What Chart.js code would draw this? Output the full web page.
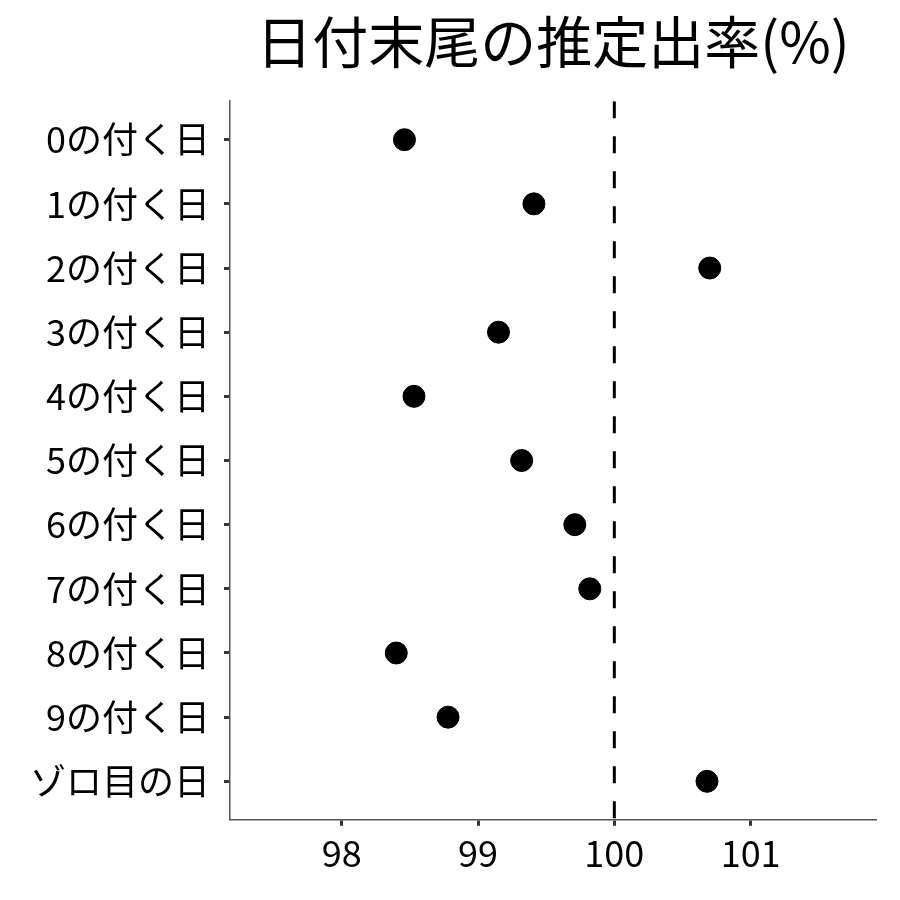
<!DOCTYPE html>
<html>
<head>
<meta charset="utf-8">
<script src="https://cdn.jsdelivr.net/npm/chart.js@4"></script>
<style>
  body { margin: 0; background: #fff; }
  #wrap { width: 900px; height: 900px; }
</style>
</head>
<body>
<div id="wrap"><canvas id="chart" width="900" height="900"></canvas></div>
<script>
    // カテゴリと推定出率
    const categories = ['0の付く日', '1の付く日', '2の付く日', '3の付く日', '4の付く日',
        '5の付く日', '6の付く日', '7の付く日', '8の付く日', '9の付く日', 'ゾロ目の日'];
    const rates = [98.46, 99.41, 100.70, 99.15, 98.53, 99.32, 99.71, 99.82, 98.40, 98.78, 100.68];
    const xTicks = [98, 99, 100, 101];
    const refValue = 100;

    const font = "'Noto Sans CJK JP', 'Noto Sans', sans-serif";

    const points = rates.map((v, i) => ({ x: v, y: i }));
    const refLine = [{ x: refValue, y: -0.6 }, { x: refValue, y: categories.length - 0.4 }];

    const ctx = document.getElementById('chart').getContext('2d');
    new Chart(ctx, {
        type: 'scatter',
        data: {
            datasets: [{
                type: 'line',
                data: refLine,
                borderColor: '#000',
                borderWidth: 3,
                borderDash: [17, 18],
                pointRadius: 0,
                fill: false,
            }, {
                data: points,
                backgroundColor: '#000',
                borderColor: '#000',
                pointRadius: 11,
                pointHoverRadius: 11,
            }]
        },
        options: {
            responsive: false,
            animation: false,
            layout: { padding: { left: 16, right: 24, top: 4, bottom: 19 } },
            plugins: {
                legend: { display: false },
                tooltip: { enabled: false },
                title: {
                    display: true,
                    text: '日付末尾の推定出率(%)',
                    fullSize: false,
                    color: '#000',
                    font: { family: font, size: 56, weight: 'normal' },
                    padding: { top: 4, bottom: 26 },
                },
            },
            scales: {
                x: {
                    type: 'linear',
                    min: 97.18,
                    max: 101.92,
                    afterBuildTicks: (axis) => { axis.ticks = xTicks.map(v => ({ value: v })); },
                    grid: { drawOnChartArea: false, tickLength: 6, tickWidth: 3, tickColor: '#333' },
                    border: { color: '#555', width: 1.5 },
                    ticks: { color: '#000', padding: 6, font: { family: font, size: 36 } },
                },
                y: {
                    type: 'linear',
                    min: -0.6,
                    max: categories.length - 0.4,
                    reverse: true,
                    afterBuildTicks: (axis) => { axis.ticks = categories.map((c, i) => ({ value: i })); },
                    grid: { drawOnChartArea: false, tickLength: 6, tickWidth: 3, tickColor: '#333' },
                    border: { color: '#555', width: 1.5 },
                    ticks: {
                        color: '#000', padding: 14, font: { family: font, size: 36 },
                        callback: (v) => categories[v],
                    },
                },
            },
        },
    });
</script>
</body>
</html>
